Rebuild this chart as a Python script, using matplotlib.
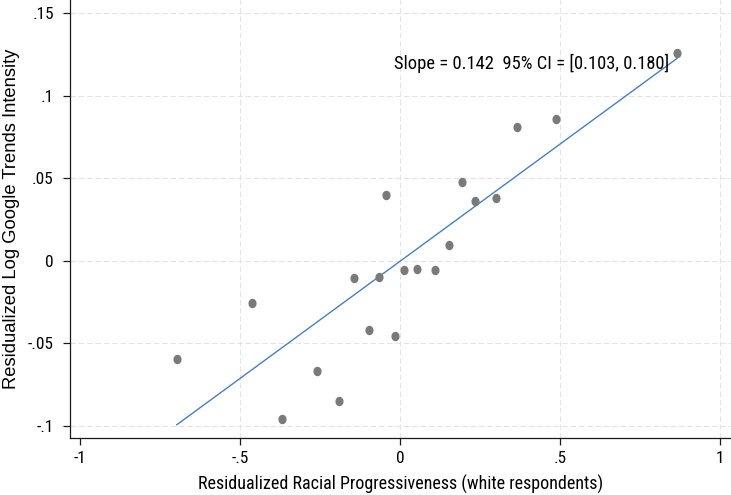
import numpy as np
import matplotlib
matplotlib.use("Agg")
import matplotlib.pyplot as plt
from matplotlib.path import Path
from matplotlib import font_manager as fm

# ---- data ----
x_vals = [0.865, 0.486, 0.366, 0.193, -0.044, 0.233, 0.300, 0.153, -0.143, -0.066,
          0.012, 0.053, 0.109, -0.461, -0.097, -0.017, -0.697, -0.259, -0.190, -0.369]
y_vals = [0.1255, 0.0857, 0.0808, 0.0479, 0.0398, 0.0362, 0.0382, 0.0094, -0.0102, -0.0096,
          -0.0056, -0.0048, -0.0056, -0.0254, -0.0417, -0.0453, -0.0593, -0.0666, -0.0849, -0.0960]
fit_slope = 0.142
fit_intercept = -0.0003
annotation = "Slope = 0.142  95% CI = [0.103, 0.180]"

x_ticks = [-1, -0.5, 0, 0.5, 1]
x_tick_labels = ["-1", "-.5", "0", ".5", "1"]
y_ticks = [-0.1, -0.05, 0, 0.05, 0.1, 0.15]
y_tick_labels = ["-.1", "-.05", "0", ".05", ".1", ".15"]
x_grid = [-0.5, 0, 0.5, 1]
y_grid = y_ticks

x_title = "Residualized Racial Progressiveness (white respondents)"
y_title = "Residualized Log Google Trends Intensity"


# ---- font choice: prefer a narrow Helvetica-like face ----
def find_narrow():
    for fam in ["Liberation Sans Narrow", "Arial Narrow", "Roboto Condensed"]:
        try:
            p = fm.findfont(fm.FontProperties(family=fam), fallback_to_default=False)
            if "narrow" in p.lower() or "condensed" in p.lower():
                return fam
        except ValueError:
            pass
    return None


nfam = find_narrow()
narrow = [nfam, "Liberation Sans", "DejaVu Sans"] if nfam else ["Liberation Sans", "DejaVu Sans"]
regular = ["Liberation Sans", "DejaVu Sans"]

W, H = 731, 495
fig = plt.figure(figsize=(W / 100, H / 100), dpi=100)
left_px, bottom_px = 69.5, 438.3
ax = fig.add_axes([left_px / W, (H - bottom_px) / H, 1 - left_px / W, bottom_px / H])

ax.set_xlim(-1.0318, 1.0334)
ax.set_ylim(-0.10745, 0.15787)

for s in ["top", "right"]:
    ax.spines[s].set_visible(False)
for s in ["left", "bottom"]:
    ax.spines[s].set_linewidth(0.9)
    ax.spines[s].set_color("#1a1a1a")

grid_kw = dict(color="#e4e4e4", linewidth=0.8, linestyle=(0, (5, 2.5)), zorder=0)
for gx in x_grid:
    ax.axvline(gx, **grid_kw)
for gy in y_grid:
    ax.axhline(gy, **grid_kw)

# slightly elliptical marker (reference is horizontally squeezed)
t = np.linspace(0, 2 * np.pi, 60)
ell = Path(np.column_stack([0.86 * np.cos(t), np.sin(t)]), closed=True)

ax.plot(x_vals, y_vals, linestyle="none", marker=ell, markersize=6.8,
        color="#7a7a7a", markeredgewidth=0, zorder=3)

xs = np.array([min(x_vals), max(x_vals)])
ax.plot(xs, fit_intercept + fit_slope * xs, color="#4a7ebb", linewidth=1.0, zorder=2)

renderer = fig.canvas.get_renderer()


def fit_size(txt, target_px, base, vertical=False):
    txt.set_fontsize(base)
    bb = txt.get_window_extent(renderer)
    cur = bb.height if vertical else bb.width
    size = base * target_px / cur
    txt.set_fontsize(size)
    return size


ann = ax.text(0.411, 0.1193, annotation, ha="center", va="center",
              family=narrow, color="black")
ann_size = fit_size(ann, 275, 12)

ax.set_xticks(x_ticks)
ax.set_yticks(y_ticks)
tick_size = ann_size * 0.93
ax.set_xticklabels(x_tick_labels, family=narrow, fontsize=tick_size)
ax.set_yticklabels(y_tick_labels, family=narrow, fontsize=tick_size)
ax.tick_params(axis="x", direction="out", length=5, width=0.9, pad=4.5, color="#1a1a1a",
               labelcolor="black")
ax.tick_params(axis="y", direction="out", length=4.7, width=0.9, pad=6.5, color="#1a1a1a",
               labelcolor="black")

xl = ax.set_xlabel(x_title, family=narrow, va="center", color="black")
fit_size(xl, 405, 12)
ax.xaxis.set_label_coords(0.5, (bottom_px - 484) / bottom_px)
yl = ax.set_ylabel(y_title, family=regular, va="center", color="black")
fit_size(yl, 342, 12, vertical=True)
ax.yaxis.set_label_coords((12 - left_px) / (W - left_px), 0.5)

fig.savefig("out.png", dpi=100)
